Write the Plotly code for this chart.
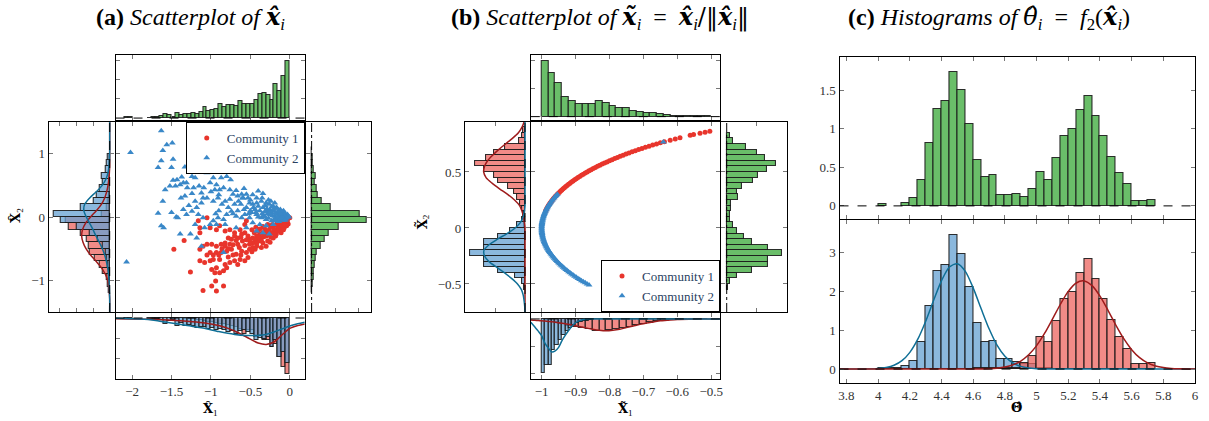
import numpy as np
import plotly.graph_objects as go

W, H = 1209, 421

# ======================= DATA : panel (a) =======================
a_comm1_pts = [
    (-0.00, -0.01), (-0.05, -0.04), (-0.09, -0.06), (-0.13, -0.11), (-0.17, -0.13), (-0.21, -0.16),
    (-0.26, -0.20), (-0.30, -0.22), (-0.34, -0.25), (-0.38, -0.27), (-0.42, -0.30), (-0.47, -0.33),
    (-0.51, -0.35), (-0.13, -0.17), (-0.19, -0.22), (-0.23, -0.25), (-0.30, -0.30), (-0.36, -0.33),
    (-0.40, -0.38), (-0.47, -0.41), (-0.51, -0.43), (-0.57, -0.25), (-0.61, -0.27), (-0.66, -0.33),
    (-0.70, -0.30), (-0.74, -0.35), (-0.78, -0.33), (-0.82, -0.41), (-0.87, -0.43), (-0.93, -0.46),
    (-0.99, -0.43), (-1.05, -0.43), (-1.10, -0.46), (-1.14, -0.51), (-1.01, -0.56), (-0.93, -0.56),
    (-0.87, -0.56), (-0.80, -0.54), (-0.74, -0.51), (-0.68, -0.59), (-0.61, -0.54), (-0.55, -0.56),
    (-0.51, -0.51), (-0.47, -0.48), (-0.42, -0.46), (-0.34, -0.41), (-0.28, -0.38), (-0.21, -0.33),
    (-0.17, -0.27), (-0.11, -0.25), (-0.07, -0.17), (-0.02, -0.11), (-0.57, -0.12), (-0.55, -0.06),
    (-1.05, -0.01), (-1.01, -0.17), (-0.93, -0.20), (-0.89, -0.14), (-0.82, -0.22), (-0.76, -0.20),
    (-0.70, -0.25), (-0.63, -0.20), (-1.14, -0.17), (-1.16, -0.06), (-1.14, -0.25), (-1.34, -0.37),
    (-1.47, -0.51), (-1.14, -0.69), (-1.08, -0.72), (-1.01, -0.69), (-0.97, -0.67), (-0.89, -0.67),
    (-0.82, -0.75), (-0.76, -0.72), (-0.70, -0.69), (-0.63, -0.67), (-0.57, -0.69), (-0.53, -0.64),
    (-0.66, -0.75), (-0.80, -0.80), (-0.93, -0.80), (-0.99, -0.83), (-0.95, -0.88), (-0.89, -0.88),
    (-0.84, -0.85), (-1.26, -0.87), (-1.10, -1.16), (-0.99, -1.09), (-0.94, -1.01), (-0.93, -1.17),
    (-0.84, -1.09), (-0.78, -0.63), (-0.44, -0.51), (-0.36, -0.48), (-0.30, -0.46), (-0.66, -0.43),
    (-0.76, -0.43), (-0.82, -0.46), (-0.06, -0.09), (-0.10, -0.14), (-0.15, -0.18), (-0.20, -0.20),
    (-0.25, -0.15), (-0.32, -0.18), (-0.40, -0.22), (-0.45, -0.25), (-0.48, -0.20), (-0.36, -0.38),
    (-0.24, -0.32), (-0.18, -0.30), (-0.12, -0.21), (-0.04, -0.14), (-0.27, -0.28), (-0.44, -0.36),
    (-0.53, -0.30), (-0.60, -0.38), (-0.57, -0.45), (-0.64, -0.48),
    (-0.03, -0.06), (-0.08, -0.10), (-0.11, -0.08), (-0.16, -0.10), (-0.22, -0.12), (-0.28, -0.12),
    (-0.34, -0.15), (-0.38, -0.19), (-0.43, -0.16), (-0.29, -0.25), (-0.33, -0.31), (-0.39, -0.32),
    (-0.20, -0.26), (-0.15, -0.22), (-0.08, -0.20), (-0.50, -0.40), (-0.55, -0.36), (-0.62, -0.32),
    (-0.68, -0.37), (-0.72, -0.44), (-0.78, -0.50), (-0.86, -0.50), (-0.90, -0.60), (-0.97, -0.60),
    (-1.05, -0.60), (-0.72, -0.60), (-0.62, -0.60), (-0.48, -0.55), (-0.42, -0.42), (-0.25, -0.40),
]
a_comm2_pts = [
    (-1.63, 1.36), (-2.02, 1.02), (-1.56, 1.14), (-1.49, 1.17), (-1.61, 1.05), (-1.26, 1.01),
    (-1.63, 0.89), (-1.48, 0.91), (-1.67, 0.78), (-1.50, 0.78), (-1.33, 0.79), (-1.22, 0.85),
    (-1.10, 0.89), (-1.04, 0.84), (-1.16, 0.80), (-1.24, 0.64), (-1.15, 0.71), (-1.20, 0.62),
    (-1.05, 0.78), (-1.05, 0.70), (-0.97, 0.62), (-0.87, 0.62), (-0.80, 0.64), (-0.75, 0.59),
    (-1.37, 0.63), (-1.43, 0.59), (-1.48, 0.58), (-1.58, 0.43), (-1.52, 0.49), (-1.45, 0.49),
    (-1.39, 0.51), (-1.35, 0.54), (-1.31, 0.54), (-1.30, 0.46), (-1.22, 0.46), (-1.15, 0.49),
    (-1.09, 0.46), (-1.01, 0.54), (-0.93, 0.51), (-0.84, 0.46), (-0.76, 0.43), (-0.95, 0.43),
    (-0.89, 0.43), (-1.12, 0.38), (-1.24, 0.37), (-1.33, 0.33), (-1.38, 0.30), (-1.61, 0.25),
    (-1.67, 0.06), (-1.50, 0.07), (-1.44, 0.00), (-1.42, -0.01), (-1.63, -0.14), (-1.60, -0.17),
    (-1.39, -0.27), (-1.31, 0.04), (-1.24, 0.09), (-1.18, 0.15), (-1.12, 0.22), (-1.05, 0.30),
    (-0.97, 0.25), (-0.91, 0.30), (-0.82, 0.25), (-0.76, 0.28), (-0.72, 0.36), (-0.66, 0.33),
    (-0.61, 0.36), (-0.59, 0.30), (-0.53, 0.30), (-0.47, 0.35), (-0.40, 0.41), (-0.34, 0.37),
    (-0.42, 0.30), (-0.36, 0.25), (-0.30, 0.22), (-0.26, 0.20), (-0.21, 0.17), (-0.17, 0.15),
    (-0.13, 0.09), (-0.09, 0.04), (-0.05, 0.01), (-0.01, 0.00), (-0.07, -0.01), (-0.13, -0.01),
    (-0.19, 0.01), (-0.23, 0.07), (-0.30, 0.09), (-0.34, 0.15), (-0.40, 0.17), (-0.47, 0.20),
    (-0.51, 0.22), (-0.55, 0.15), (-0.49, 0.07), (-0.42, 0.04), (-0.36, -0.01), (-0.30, -0.04),
    (-0.23, -0.06), (-0.17, -0.06), (-0.11, -0.04), (-0.21, -0.12), (-0.30, -0.14), (-0.38, -0.12),
    (-0.47, -0.09), (-0.51, -0.01), (-0.57, 0.04), (-0.61, -0.01), (-0.68, 0.01), (-0.74, 0.09),
    (-0.80, 0.04), (-0.84, -0.04), (-0.91, -0.01), (-0.97, -0.06), (-1.01, -0.12), (-1.08, -0.17),
    (-1.10, -0.01), (-1.16, 0.04), (-1.20, -0.12), (-1.18, -0.33), (-1.26, -0.27), (-1.12, -0.46),
    (-0.93, -0.12), (-0.82, -0.12), (-0.68, -0.17), (-0.55, -0.17), (-0.42, -0.22), (-0.34, -0.25),
    (-0.26, -0.27), (-2.07, -0.71), (-0.84, -0.56), (-0.25, 0.12), (-0.20, 0.10), (-0.15, 0.05),
    (-0.10, 0.08), (-0.08, 0.02), (-0.05, -0.03), (-0.12, 0.12), (-0.28, 0.05), (-0.33, 0.02),
    (-0.38, 0.10), (-0.44, 0.12), (-0.50, 0.10), (-0.27, -0.02), (-0.22, 0.02), (-0.18, -0.03),
    (-0.14, 0.02), (-0.03, 0.04), (-0.06, 0.06), (-0.09, -0.05), (-0.16, 0.14), (-0.31, 0.18),
    (-0.24, 0.25), (-0.35, 0.30), (-0.55, 0.36), (-0.62, 0.20), (-0.65, 0.25), (-0.70, 0.20),
    (-0.78, 0.15), (-0.86, 0.20), (-0.90, 0.10), (-0.94, 0.05),
    (-0.02, 0.02), (-0.04, -0.01), (-0.07, 0.03), (-0.10, 0.00), (-0.12, 0.05), (-0.15, 0.09),
    (-0.18, 0.06), (-0.20, 0.13), (-0.23, 0.16), (-0.26, 0.09), (-0.29, 0.13), (-0.32, 0.08),
    (-0.35, 0.05), (-0.40, 0.00), (-0.43, 0.07), (-0.46, 0.15), (-0.52, 0.05), (-0.58, 0.12),
    (-0.66, 0.10), (-0.72, 0.05), (-0.08, 0.10), (-0.11, -0.02), (-0.16, 0.00), (-0.25, 0.04),
    (-0.31, 0.00), (-0.20, -0.04), (-0.14, -0.07), (-0.06, -0.05), (-0.27, 0.27), (-0.19, 0.22),
    (-0.42, 0.22), (-0.50, 0.27), (-0.60, 0.30), (-0.68, 0.42), (-0.58, 0.45), (-0.90, 0.35),
    (-1.00, 0.40), (-1.10, 0.30), (-1.20, 0.25), (-1.28, 0.18), (-1.35, 0.12),
]

# top marginal (x1, all nodes): bins of 0.05 starting at -2.10
a_top_start, a_top_w = -2.10, 0.05
a_top_h = [0.04, 0.04, 0, 0, 0, 0, 0.02, 0.04, 0.04,
           0.12, 0.21, 0.14, 0.07, 0.28, 0.14, 0.23, 0.23, 0.28, 0.21, 0.30, 0.56, 0.35, 0.44,
           0.49, 0.75, 0.56, 0.65, 0.70, 0.60, 0.86, 0.75, 0.75, 0.75, 0.91, 1.26, 1.32, 1.18,
           0.91, 1.77, 1.40, 2.16, 2.95]
# right marginal (x2, all nodes): bins of 0.1 starting at -1.2
a_right_start, a_right_w = -1.2, 0.1
a_right_h = [0.02, 0.03, 0.07, 0.11, 0.14, 0.18, 0.22, 0.38, 0.56, 0.72, 1.15, 2.36, 2.04,
             0.79, 0.44, 0.24, 0.21, 0.15, 0.18, 0.10, 0.06, 0.03, 0.02]
# left marginal (x2 per community): bins of 0.1 starting at -1.2
a_left_start, a_left_w = -1.2, 0.1
a_left_c1 = [0.05, 0.10, 0.20, 0.39, 0.59, 0.88, 1.18, 1.27, 1.37, 1.75, 2.45, 2.65, 0.50,
             0.20, 0.10, 0.05, 0, 0, 0, 0, 0, 0]
a_left_c2 = [0, 0.02, 0.03, 0.05, 0.10, 0.15, 0.25, 0.39, 0.69, 1.18, 1.96, 2.94, 3.33,
             1.76, 0.98, 0.78, 0.59, 0.39, 0.49, 0.25, 0.20, 0.10]
# bottom marginal (x1 per community): bins of 0.05 starting at -2.10
a_bot_start, a_bot_w = -2.10, 0.05
a_bot_c2 = [0.05, 0.05, 0, 0, 0, 0, 0.03, 0.05, 0.05, 0.10,
            0.30, 0.16, 0.10, 0.41, 0.26, 0.38, 0.33, 0.38, 0.49, 0.46, 0.46, 0.54, 0.51, 0.62,
            0.54, 0.62, 0.70, 0.66, 0.82, 0.66, 0.62, 0.70, 0.79, 1.11, 0.98, 1.03, 0.95, 1.44,
            1.11, 1.93, 1.69, 2.26]
a_bot_c1 = [0, 0, 0, 0, 0, 0, 0, 0, 0, 0,
            0.0, 0.0, 0.03, 0.02, 0.02, 0.03, 0.05, 0.06, 0.10, 0.12, 0.15, 0.20, 0.20, 0.25,
            0.30, 0.30, 0.35, 0.40, 0.45, 0.54, 0.79, 0.62, 0.62, 0.95, 0.87, 1.11, 1.11, 1.44,
            1.28, 1.93, 2.43, 2.79]
# kernel density curves
a_kde_left_pos = [-1.5, -1.3, -1.2, -1.1, -1.0, -0.9, -0.8, -0.7, -0.6, -0.5, -0.4, -0.3, -0.2, -0.1,
                  0.0, 0.1, 0.2, 0.3, 0.4, 0.5, 0.6, 0.7, 0.8, 0.9, 1.0, 1.5]
a_kde_left_c1 = [0, 0, 0.02, 0.05, 0.12, 0.27, 0.50, 0.82, 1.15, 1.42, 1.60, 1.68, 1.63, 1.45,
                 1.15, 0.80, 0.50, 0.30, 0.18, 0.10, 0.05, 0.02, 0, 0, 0, 0]
a_kde_left_c2 = [0, 0, 0.01, 0.02, 0.04, 0.07, 0.12, 0.20, 0.30, 0.44, 0.62, 0.82, 1.00, 1.20,
                 1.40, 1.55, 1.50, 1.20, 0.80, 0.45, 0.22, 0.10, 0.04, 0.01, 0, 0]
a_kde_bot_pos = [-2.21, -1.9, -1.7, -1.5, -1.3, -1.1, -0.9, -0.7, -0.55, -0.4, -0.3, -0.2, -0.1,
                 0.0, 0.1, 0.19]
a_kde_bot_c1 = [0.04, 0.06, 0.08, 0.11, 0.16, 0.24, 0.38, 0.65, 0.95, 1.25, 1.32, 1.20, 0.85,
                0.52, 0.38, 0.30]
a_kde_bot_c2 = [0.01, 0.05, 0.12, 0.25, 0.38, 0.50, 0.68, 0.82, 0.87, 0.87, 0.82, 0.70, 0.55,
                0.40, 0.29, 0.21]

# ======================= DATA : panel (b) =======================
b_comm1_pts = [
    (-0.9887, 0.15), (-0.9871, 0.16), (-0.9854, 0.17), (-0.9837, 0.18), (-0.9818, 0.19),
    (-0.9798, 0.20), (-0.9777, 0.21), (-0.9755, 0.22), (-0.9732, 0.23), (-0.9708, 0.24),
    (-0.9682, 0.25), (-0.9656, 0.26), (-0.9629, 0.27), (-0.9600, 0.28), (-0.9570, 0.29),
    (-0.9539, 0.30), (-0.9507, 0.31), (-0.9474, 0.32), (-0.9440, 0.33), (-0.9404, 0.34),
    (-0.9367, 0.35), (-0.9330, 0.36), (-0.9290, 0.37), (-0.9250, 0.38), (-0.9208, 0.39),
    (-0.9165, 0.40), (-0.9121, 0.41), (-0.9075, 0.42), (-0.9028, 0.43), (-0.8980, 0.44),
    (-0.8930, 0.45), (-0.8879, 0.46), (-0.8827, 0.47), (-0.8773, 0.48), (-0.8717, 0.49),
    (-0.8660, 0.50), (-0.8602, 0.51), (-0.8542, 0.52), (-0.8480, 0.53), (-0.8417, 0.54),
    (-0.8352, 0.55), (-0.8285, 0.56), (-0.8216, 0.57), (-0.8146, 0.58), (-0.8074, 0.59),
    (-0.8000, 0.60), (-0.7924, 0.61), (-0.7846, 0.62), (-0.7766, 0.63), (-0.7684, 0.64),
    (-0.7599, 0.65), (-0.7513, 0.66), (-0.7424, 0.67), (-0.7332, 0.68), (-0.7238, 0.69),
    (-0.7141, 0.70), (-0.7042, 0.71), (-0.6940, 0.72), (-0.6834, 0.73), (-0.6726, 0.74),
    (-0.6614, 0.75), (-0.6499, 0.76), (-0.6380, 0.77),
    (-0.621, 0.784), (-0.606, 0.795), (-0.592, 0.806), (-0.562, 0.827), (-0.552, 0.834),
    (-0.533, 0.846), (-0.518, 0.855), (-0.504, 0.864),
]
b_comm2_pts = [
    (-0.9539, 0.30), (-0.9570, 0.29), (-0.9600, 0.28), (-0.9629, 0.27), (-0.9656, 0.26),
    (-0.9682, 0.25), (-0.9708, 0.24), (-0.9732, 0.23), (-0.9755, 0.22), (-0.9777, 0.21),
    (-0.9798, 0.20), (-0.9818, 0.19), (-0.9837, 0.18), (-0.9854, 0.17), (-0.9871, 0.16),
    (-0.9887, 0.15), (-0.9902, 0.14), (-0.9915, 0.13), (-0.9928, 0.12), (-0.9939, 0.11),
    (-0.9950, 0.10), (-0.9959, 0.09), (-0.9968, 0.08), (-0.9975, 0.07), (-0.9982, 0.06),
    (-0.9987, 0.05), (-0.9992, 0.04), (-0.9995, 0.03), (-0.9998, 0.02), (-0.9999, 0.01),
    (-1.0000, 0.00), (-0.9999, -0.01), (-0.9998, -0.02), (-0.9995, -0.03), (-0.9992, -0.04),
    (-0.9987, -0.05), (-0.9982, -0.06), (-0.9975, -0.07), (-0.9968, -0.08), (-0.9959, -0.09),
    (-0.9950, -0.10), (-0.9939, -0.11), (-0.9928, -0.12), (-0.9915, -0.13), (-0.9902, -0.14),
    (-0.9887, -0.15), (-0.9871, -0.16), (-0.9854, -0.17), (-0.9837, -0.18), (-0.9818, -0.19),
    (-0.9798, -0.20), (-0.9777, -0.21), (-0.9755, -0.22), (-0.9732, -0.23), (-0.9708, -0.24),
    (-0.9682, -0.25), (-0.9656, -0.26), (-0.9629, -0.27), (-0.9600, -0.28), (-0.9570, -0.29),
    (-0.9539, -0.30), (-0.9507, -0.31), (-0.9474, -0.32), (-0.9440, -0.33), (-0.9404, -0.34),
    (-0.9367, -0.35), (-0.9330, -0.36), (-0.9290, -0.37), (-0.9250, -0.38), (-0.9208, -0.39),
    (-0.9165, -0.40), (-0.9121, -0.41), (-0.9075, -0.42), (-0.9028, -0.43), (-0.8980, -0.44),
    (-0.8930, -0.45), (-0.8879, -0.46), (-0.8827, -0.47), (-0.8773, -0.48), (-0.8717, -0.49),
    (-0.8660, -0.50), (-0.8602, -0.51), (-0.782, -0.623), (-0.641, 0.768),
]

b_top_start, b_top_w = -1.0, 0.02
b_top_h = [1.98, 1.56, 1.20, 0.71, 0.55, 0.44, 0.44, 0.45, 0.55, 0.49, 0.38, 0.32, 0.29, 0.20,
           0.18, 0.14, 0.12, 0.09, 0.05, 0.02, 0.02, 0.02, 0.02, 0.02, 0.02]
b_right_start, b_right_w = -0.55, 0.05
b_right_h = [0.05, 0.11, 0.35, 0.84, 1.39, 1.39, 1.83, 1.36, 0.84, 0.57, 0.35, 0.20, 0.11, 0.11,
             0.13, 0.15, 0.37, 0.33, 0.51, 0.89, 1.03, 1.33, 1.65, 1.27, 1.00, 0.65, 0.22, 0.11]
b_left_start, b_left_w = -0.55, 0.05
b_left_c2 = [0.04, 0.11, 0.33, 0.89, 1.35, 1.38, 1.85, 1.38, 1.35, 0.89, 0.51, 0.28, 0.10, 0.04,
             0, 0, 0, 0, 0, 0, 0, 0, 0, 0, 0, 0, 0, 0, 0]
b_left_c1 = [0, 0, 0, 0, 0, 0, 0, 0, 0, 0, 0, 0.02, 0.03, 0.07, 0.11, 0.15, 0.28, 0.35, 0.57,
             0.91, 1.03, 1.38, 1.67, 1.30, 1.03, 0.65, 0.20, 0.11, 0.05]
b_bot_c2_start, b_bot_c2_w = -1.0, 0.01
b_bot_c2 = [2.01, 1.71, 1.71, 1.16, 0.98, 0.79, 0.61, 0.43, 0.33, 0.24, 0.16, 0.12, 0.09, 0.06, 0.04]
b_bot_c1_start, b_bot_c1_w = -0.99, 0.02
b_bot_c1 = [0.05, 0.10, 0.18, 0.25, 0.30, 0.33, 0.37, 0.43, 0.46, 0.40, 0.37, 0.33, 0.28, 0.24,
            0.18, 0.13, 0.09, 0.06, 0.04, 0.03, 0.02, 0.02, 0.01, 0.01]
b_kde_left_pos = [-0.75, -0.7, -0.65, -0.6, -0.55, -0.5, -0.45, -0.4, -0.35, -0.3, -0.25, -0.2,
                  -0.15, -0.1, -0.05, 0.0, 0.05, 0.1, 0.15, 0.2, 0.25, 0.3, 0.35, 0.4, 0.45, 0.5,
                  0.55, 0.6, 0.65, 0.7, 0.75, 0.8, 0.85, 0.9, 0.946]
b_kde_left_c2 = [0, 0.01, 0.03, 0.06, 0.12, 0.25, 0.45, 0.68, 0.95, 1.20, 1.35, 1.37, 1.20, 0.92,
                 0.60, 0.33, 0.15, 0.06, 0.02, 0, 0, 0, 0, 0, 0, 0, 0, 0, 0, 0, 0, 0, 0, 0, 0]
b_kde_left_c1 = [0, 0, 0, 0, 0, 0, 0, 0, 0, 0, 0, 0, 0, 0, 0, 0, 0.02, 0.05, 0.10, 0.18, 0.35,
                 0.58, 0.85, 1.10, 1.30, 1.38, 1.35, 1.25, 1.08, 0.88, 0.65, 0.42, 0.22, 0.10, 0.03]
b_kde_bot_pos = [-1.032, -1.02, -1.01, -1.0, -0.99, -0.98, -0.97, -0.96, -0.95, -0.94, -0.93,
                 -0.92, -0.91, -0.9, -0.89, -0.88, -0.87, -0.85, -0.83, -0.81, -0.79, -0.77,
                 -0.75, -0.73, -0.71, -0.69, -0.67, -0.65, -0.63, -0.6, -0.55, -0.5, -0.474]
b_kde_bot_c2 = [0.12, 0.30, 0.45, 0.62, 0.90, 1.08, 1.22, 1.18, 1.05, 0.80, 0.60, 0.42, 0.26,
                0.14, 0.07, 0.03, 0.01, 0, 0, 0, 0, 0, 0, 0, 0, 0, 0, 0, 0, 0, 0, 0, 0]
b_kde_bot_c1 = [0.04, 0.05, 0.06, 0.07, 0.08, 0.09, 0.10, 0.12, 0.14, 0.16, 0.18, 0.20, 0.23,
                0.25, 0.28, 0.30, 0.33, 0.38, 0.42, 0.44, 0.42, 0.38, 0.32, 0.26, 0.20, 0.15,
                0.11, 0.07, 0.05, 0.02, 0.01, 0, 0]

# ======================= DATA : panel (c) =======================
c_start, c_w = 4.0, 0.05
c_all = [0.02, 0, 0, 0.04, 0.10, 0.34, 0.82, 1.26, 1.36, 1.74, 1.50, 1.06, 0.60, 0.38, 0.40,
         0.14, 0.14, 0.16, 0.12, 0.22, 0.44, 0.34, 0.62, 0.90, 1.00, 1.24, 1.42, 1.16, 0.90,
         0.64, 0.42, 0.28, 0.06, 0.06, 0.08]
c_comm2 = [0.03, 0.02, 0.02, 0.08, 0.20, 0.69, 1.64, 2.52, 2.68, 3.47, 2.96, 2.12, 1.20, 0.69,
           0.72, 0.27, 0.27, 0.17, 0.12, 0.12, 0.04, 0.02, 0, 0, 0, 0, 0, 0, 0, 0, 0, 0, 0, 0, 0]
c_comm1 = [0, 0, 0, 0, 0, 0, 0, 0, 0, 0, 0, 0, 0.03, 0.04, 0.04, 0.03, 0.03, 0.02, 0.15, 0.33,
           0.84, 0.69, 1.24, 1.80, 2.00, 2.48, 2.84, 2.32, 1.80, 1.28, 0.84, 0.52, 0.12, 0.12, 0.16]
c_fit2_x = [3.756, 3.9, 4.0, 4.05, 4.1, 4.15, 4.2, 4.25, 4.3, 4.35, 4.4, 4.45, 4.5, 4.55, 4.6,
            4.65, 4.7, 4.75, 4.8, 4.85, 4.9, 4.95, 5.0, 5.1, 5.3, 6.0]
c_fit2_y = [0, 0.002, 0.014, 0.039, 0.097, 0.216, 0.432, 0.772, 1.237, 1.776, 2.285, 2.636, 2.72,
            2.523, 2.09, 1.557, 1.04, 0.62, 0.332, 0.159, 0.069, 0.026, 0.009, 0.001, 0, 0]
c_fit1_x = [3.756, 4.4, 4.6, 4.7, 4.75, 4.8, 4.85, 4.9, 4.95, 5.0, 5.05, 5.1, 5.15, 5.2, 5.25,
            5.3, 5.35, 5.4, 5.45, 5.5, 5.55, 5.6, 5.65, 5.7, 5.75, 5.8, 5.85, 5.9, 6.0]
c_fit1_y = [0, 0, 0.001, 0.009, 0.023, 0.052, 0.108, 0.207, 0.368, 0.605, 0.919, 1.290, 1.674,
            2.006, 2.223, 2.276, 2.154, 1.884, 1.523, 1.137, 0.785, 0.501, 0.295, 0.161, 0.081,
            0.038, 0.016, 0.006, 0.001]
c_ticks = [3.8, 4.0, 4.2, 4.4, 4.6, 4.8, 5.0, 5.2, 5.4, 5.6, 5.8, 6.0]
c_ticktext = ["3.8", "4", "4.2", "4.4", "4.6", "4.8", "5", "5.2", "5.4", "5.6", "5.8", "6"]

# ======================= STYLE =======================
SERIF = "Liberation Serif"
MATH = "DejaVu Serif"
GREEN = "rgb(106,190,105)"
RED_BAR = "rgba(236,100,95,0.75)"
BLUE_BAR = "rgba(100,160,210,0.75)"
EDGE = "rgba(25,25,25,0.9)"
RED_KDE = "#9e1b1b"
BLUE_KDE = "#0f6f96"
RED_PT = "#e8352c"
BLUE_PT = "#3a88c8"


def centers(start, w, n):
    return [start + w * (i + 0.5) for i in range(n)]


def names(n):
    return ("x" if n == 1 else f"x{n}", "y" if n == 1 else f"y{n}")


traces = []


def bars(n, start, w, vals, color, horizontal=False):
    xa, ya = names(n)
    pos = centers(start, w, len(vals))
    keep = [(p, v) for p, v in zip(pos, vals) if v > 0]
    p = [k[0] for k in keep]
    v = [k[1] for k in keep]
    kw = dict(marker=dict(color=color, line=dict(color=EDGE, width=1.1)), width=w,
              xaxis=xa, yaxis=ya, showlegend=False, hoverinfo="skip")
    if horizontal:
        traces.append(go.Bar(x=v, y=p, orientation="h", **kw))
    else:
        traces.append(go.Bar(x=p, y=v, **kw))


def curve(n, xs, ys, color):
    xa, ya = names(n)
    traces.append(go.Scatter(x=xs, y=ys, mode="lines",
                             line=dict(color=color, width=1.5, shape="spline", smoothing=0.8),
                             xaxis=xa, yaxis=ya, showlegend=False, hoverinfo="skip"))


base = dict(showgrid=False, zeroline=False, showline=True, linecolor="black", linewidth=1.2,
            mirror="ticks", ticks="inside", ticklen=4, tickcolor="#777", tickwidth=1,
            tickfont=dict(family=SERIF, size=13, color="#333"), showticklabels=False)

layout_axes = {}
shapes = []


def add_axes(n, px, py, xr, yr, xkw=None, ykw=None):
    xkey = "xaxis" if n == 1 else f"xaxis{n}"
    ykey = "yaxis" if n == 1 else f"yaxis{n}"
    xa, ya = names(n)
    xd = dict(base, domain=[px[0] / W, px[1] / W], range=xr, anchor=ya)
    yd = dict(base, domain=[1 - py[1] / H, 1 - py[0] / H], range=yr, anchor=xa)
    xd.update(xkw or {})
    yd.update(ykw or {})
    layout_axes[xkey] = xd
    layout_axes[ykey] = yd


def hline0(n, dash="dash"):
    xa, ya = names(n)
    shapes.append(dict(type="line", xref=f"{xa} domain", x0=0, x1=1, yref=ya, y0=0, y1=0,
                       line=dict(color="black", width=1, dash=dash), layer="above"))


def vline0(n, dash="dash"):
    xa, ya = names(n)
    shapes.append(dict(type="line", yref=f"{ya} domain", y0=0, y1=1, xref=xa, x0=0, x1=0,
                       line=dict(color="black", width=1, dash=dash), layer="above"))


# ---------------- panel (a) ----------------
a_xr = [-2.21, 0.19]
a_yr = [-1.5, 1.5]
a_xt = [-2, -1.5, -1, -0.5, 0]
a_yt = [-1, 0, 1]
add_axes(1, (115, 305), (122, 312), a_xr, a_yr, dict(tickvals=a_xt), dict(tickvals=a_yt))
add_axes(2, (115, 305), (55, 120), a_xr, [-0.1, 3.26], dict(tickvals=a_xt), dict(tickvals=[1, 2, 3]))
add_axes(3, (48, 114), (122, 312), [3.65, -0.29], a_yr, dict(tickvals=[1, 2, 3]),
         dict(tickvals=a_yt, showticklabels=True))
add_axes(4, (306, 372), (122, 312), [-0.25, 2.54], a_yr, dict(tickvals=[1, 2]), dict(tickvals=a_yt))
add_axes(5, (115, 305), (313, 379), a_xr, [3.05, -0.25], dict(tickvals=a_xt, showticklabels=True),
         dict(tickvals=[1, 2]))

bars(2, a_top_start, a_top_w, a_top_h, GREEN)
bars(4, a_right_start, a_right_w, a_right_h, GREEN, horizontal=True)
bars(3, a_left_start, a_left_w, a_left_c1, RED_BAR, horizontal=True)
bars(3, a_left_start, a_left_w, a_left_c2, BLUE_BAR, horizontal=True)
bars(5, a_bot_start, a_bot_w, a_bot_c1, RED_BAR)
bars(5, a_bot_start, a_bot_w, a_bot_c2, BLUE_BAR)
hline0(2); vline0(4, "dashdot"); vline0(3); hline0(5)
curve(3, a_kde_left_c1, a_kde_left_pos, RED_KDE)
curve(3, a_kde_left_c2, a_kde_left_pos, BLUE_KDE)
curve(5, a_kde_bot_pos, a_kde_bot_c1, RED_KDE)
curve(5, a_kde_bot_pos, a_kde_bot_c2, BLUE_KDE)

traces.append(go.Scatter(x=[p[0] for p in a_comm1_pts], y=[p[1] for p in a_comm1_pts], mode="markers",
                         marker=dict(color=RED_PT, size=5, symbol="circle"), name="Community 1",
                         xaxis="x", yaxis="y", legend="legend"))
traces.append(go.Scatter(x=[p[0] for p in a_comm2_pts], y=[p[1] for p in a_comm2_pts], mode="markers",
                         marker=dict(color=BLUE_PT, size=6, symbol="triangle-up"), name="Community 2",
                         xaxis="x", yaxis="y", legend="legend"))

# ---------------- panel (b) ----------------
b_xr = [-1.032, -0.474]
b_yr = [-0.75, 0.946]
b_xt = [-1, -0.9, -0.8, -0.7, -0.6, -0.5]
b_yt = [-0.5, 0, 0.5]
add_axes(6, (532, 722), (122, 312), b_xr, b_yr, dict(tickvals=b_xt), dict(tickvals=b_yt))
add_axes(7, (532, 722), (55, 120), b_xr, [-0.12, 2.18], dict(tickvals=b_xt), dict(tickvals=[1, 2]))
add_axes(8, (466, 531), (122, 312), [2.0, -0.16], b_yr, dict(tickvals=[1, 2]),
         dict(tickvals=b_yt, showticklabels=True))
add_axes(9, (723, 789), (122, 312), [-0.19, 2.0], b_yr, dict(tickvals=[1, 2]), dict(tickvals=b_yt))
add_axes(10, (532, 722), (313, 379), b_xr, [2.22, -0.22], dict(tickvals=b_xt, showticklabels=True),
         dict(tickvals=[1, 2]))

bars(7, b_top_start, b_top_w, b_top_h, GREEN)
bars(9, b_right_start, b_right_w, b_right_h, GREEN, horizontal=True)
bars(8, b_left_start, b_left_w, b_left_c1, RED_BAR, horizontal=True)
bars(8, b_left_start, b_left_w, b_left_c2, BLUE_BAR, horizontal=True)
bars(10, b_bot_c1_start, b_bot_c1_w, b_bot_c1, RED_BAR)
bars(10, b_bot_c2_start, b_bot_c2_w, b_bot_c2, BLUE_BAR)
hline0(7); vline0(9, "dashdot"); vline0(8); hline0(10)
curve(8, b_kde_left_c1, b_kde_left_pos, RED_KDE)
curve(8, b_kde_left_c2, b_kde_left_pos, BLUE_KDE)
curve(10, b_kde_bot_pos, b_kde_bot_c1, RED_KDE)
curve(10, b_kde_bot_pos, b_kde_bot_c2, BLUE_KDE)

traces.append(go.Scatter(x=[p[0] for p in b_comm1_pts], y=[p[1] for p in b_comm1_pts], mode="markers",
                         marker=dict(color=RED_PT, size=5, symbol="circle"), name="Community 1",
                         xaxis="x6", yaxis="y6", legend="legend2"))
traces.append(go.Scatter(x=[p[0] for p in b_comm2_pts], y=[p[1] for p in b_comm2_pts], mode="markers",
                         marker=dict(color=BLUE_PT, size=6, symbol="triangle-up"), name="Community 2",
                         xaxis="x6", yaxis="y6", legend="legend2"))

# ---------------- panel (c) ----------------
c_xr = [3.756, 6.0]
add_axes(11, (842, 1199), (57, 219), c_xr, [-0.17, 1.93], dict(tickvals=c_ticks),
         dict(tickvals=[0, 0.5, 1, 1.5], ticktext=["0", "0.5", "1", "1.5"], showticklabels=True))
add_axes(12, (842, 1199), (220, 383), c_xr, [-0.36, 3.85],
         dict(tickvals=c_ticks, ticktext=c_ticktext, showticklabels=True),
         dict(tickvals=[0, 1, 2, 3], showticklabels=True))
bars(11, c_start, c_w, c_all, GREEN)
bars(12, c_start, c_w, c_comm2, BLUE_BAR)
bars(12, c_start, c_w, c_comm1, RED_BAR)
hline0(11); hline0(12)
curve(12, c_fit2_x, c_fit2_y, BLUE_KDE)
curve(12, c_fit1_x, c_fit1_y, RED_KDE)

# ---------------- annotations ----------------
ann = []


def text(px, py, s, size, angle=0, color="black"):
    ann.append(dict(x=px / W, y=1 - py / H, xref="paper", yref="paper", text=s, showarrow=False,
                    xanchor="center", yanchor="middle", textangle=angle,
                    font=dict(family=SERIF, size=size, color=color)))


def m(s):
    return f"<span style='font-family:{MATH}'>{s}</span>"


SP = "\u2002"
xhat = "<b><i>" + m("x\u0302") + "</i></b><sub><i>i</i></sub>"
xtil = "<b><i>" + m("x\u0303") + "</i></b><sub><i>i</i></sub>"
text(190, 18, "<b>(a)</b> <i>Scatterplot of </i>" + xhat, 24)
text(601, 18, "<b>(b)</b> <i>Scatterplot of </i>" + xtil + SP + "=" + SP
     + xhat + m("/\u2016") + xhat + m("\u2016"), 24)
text(992, 18, "<b>(c)</b> <i>Histograms of </i><i>" + m("\u03b8\u0302") + "</i><sub><i>i</i></sub>"
     + SP + "=" + SP + "<i>f</i><sub>2</sub>(" + xhat + ")", 24)
text(210, 409, "<b>" + m("X\u0302") + "</b><sub>1</sub>", 13)
text(15, 215, "<b>" + m("X\u0302") + "</b><sub>2</sub>", 13, angle=-90)
text(627, 409, "<b>" + m("X\u0303") + "</b><sub>1</sub>", 13)
text(423, 222, "<b>" + m("X\u0303") + "</b><sub>2</sub>", 13, angle=-90)
text(1020, 407, "<b>" + m("\u0398\u0302") + "</b>", 13)

leg = dict(bordercolor="black", borderwidth=1, bgcolor="white", font=dict(family=SERIF, size=13),
           itemwidth=30, tracegroupgap=0, itemclick=False)

fig = go.Figure(data=traces)
fig.update_layout(
    width=W, height=H, margin=dict(l=0, r=0, t=0, b=0),
    paper_bgcolor="white", plot_bgcolor="white", barmode="overlay", bargap=0,
    showlegend=True,
    legend=dict(leg, x=305 / W, xanchor="right", y=1 - 122 / H, yanchor="top"),
    legend2=dict(leg, x=722 / W, xanchor="right", y=1 - 312 / H, yanchor="bottom"),
    annotations=ann, shapes=shapes, **layout_axes,
)
fig.write_html("out.html")
